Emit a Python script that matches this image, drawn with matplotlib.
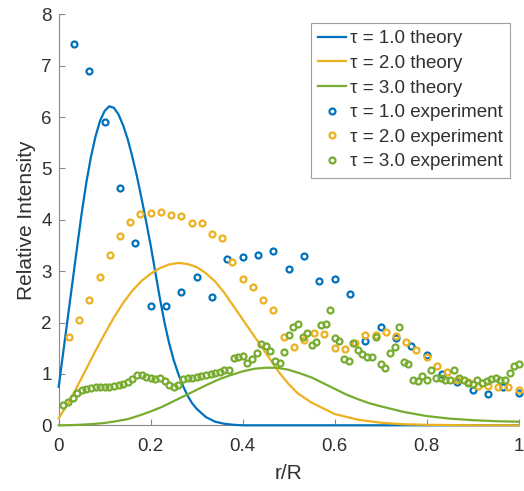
import numpy as np
import matplotlib
matplotlib.use("Agg")
import matplotlib.pyplot as plt

plt.rcParams['font.family'] = ['Liberation Sans', 'DejaVu Sans']

# ---------------- data ----------------
# theory curves
blue_th_x = [0, .01, .02, .03, .04, .05, .06, .07, .08, .09, .10, .11, .12, .13, .14, .15, .16,
             .17, .18, .19, .20, .21, .22, .23, .24, .25, .26, .27, .28, .29, .30, .32, .34, .36,
             .38, .40, 1.0]
blue_th_y = [0.75, 1.43, 2.11, 2.79, 3.47, 4.13, 4.72, 5.22, 5.62, 5.93, 6.12, 6.21, 6.18, 6.05,
             5.84, 5.57, 5.23, 4.85, 4.42, 3.97, 3.50, 2.98, 2.47, 2.00, 1.60, 1.27, 1.00, 0.77,
             0.58, 0.43, 0.32, 0.16, 0.07, 0.03, 0.01, 0.0, 0.0]

orange_th_x = [0, .02, .04, .06, .08, .10, .12, .14, .16, .18, .20, .22, .24, .26, .28, .30, .32,
               .34, .36, .38, .40, .42, .44, .46, .48, .50, .52, .55, .60, .65, .70, .75, .80, .90, 1.0]
orange_th_y = [0.14, 0.42, 0.75, 1.10, 1.45, 1.78, 2.10, 2.38, 2.62, 2.81, 2.95, 3.06, 3.13, 3.16,
               3.14, 3.08, 2.96, 2.80, 2.58, 2.32, 2.06, 1.80, 1.54, 1.28, 1.02, 0.80, 0.62, 0.44,
               0.22, 0.11, 0.05, 0.02, 0.01, 0.0, 0.0]

green_th_x = [0, .025, .05, .075, .10, .125, .15, .175, .20, .225, .25, .275, .30, .325, .35, .375,
              .40, .425, .45, .475, .50, .525, .55, .575, .60, .625, .65, .675, .70, .75, .80, .85,
              .90, .95, 1.0]
green_th_y = [0.0, 0.003, 0.012, 0.025, 0.045, 0.08, 0.12, 0.19, 0.27, 0.36, 0.47, 0.58, 0.69, 0.80,
              0.90, 0.98, 1.05, 1.10, 1.12, 1.12, 1.08, 1.01, 0.93, 0.82, 0.71, 0.60, 0.51, 0.43,
              0.37, 0.26, 0.18, 0.13, 0.10, 0.08, 0.07]

# experiment points
blue_ex_y = [7.42, 6.89, 5.91, 4.62, 3.55, 2.32, 2.32, 2.59, 2.88, 2.50, 3.23, 3.28, 3.31, 3.40,
             3.05, 3.29, 2.80, 2.84, 2.55, 1.65, 1.91, 1.69, 1.55, 1.36, 1.00, 0.84, 0.68, 0.61,
             0.75, 0.63]
blue_ex_x = np.arange(1, len(blue_ex_y) + 1) / 30

orange_ex_y = [1.72, 2.05, 2.44, 2.88, 3.31, 3.68, 3.96, 4.12, 4.14, 4.16, 4.10, 4.08, 3.93, 3.94,
               3.72, 3.64, 3.18, 2.85, 2.70, 2.44, 2.24, 1.71, 1.52, 1.67, 1.79, 1.78, 1.50, 1.48,
               1.61, 1.76, 1.75, 1.81, 1.74, 1.63, 1.46, 1.32, 1.16, 1.04, 0.88, 0.85, 0.77, 0.76,
               0.74, 0.74, 0.69]
orange_ex_x = np.arange(1, len(orange_ex_y) + 1) / 45

green_ex_y = [0.40, 0.46, 0.54, 0.62, 0.68, 0.71, 0.72, 0.74, 0.74, 0.75,
              0.75, 0.77, 0.79, 0.80, 0.85, 0.90, 0.98, 0.98, 0.94, 0.92,
              0.90, 0.92, 0.87, 0.79, 0.75, 0.78, 0.90, 0.93, 0.93, 0.94,
              0.96, 0.98, 1.00, 1.02, 1.04, 1.08, 1.08, 1.31, 1.32, 1.35,
              1.22, 1.29, 1.41, 1.58, 1.54, 1.45, 1.25, 1.22, 1.43, 1.76,
              1.92, 1.98, 1.72, 1.79, 1.56, 1.63, 1.95, 1.97, 2.24, 1.70,
              1.65, 1.30, 1.25, 1.60, 1.47, 1.39, 1.32, 1.32, 1.71, 1.19,
              1.11, 1.40, 1.53, 1.92, 1.24, 1.19, 0.88, 0.87, 0.95, 0.88,
              1.08, 0.93, 0.93, 0.88, 0.89, 1.08, 0.93, 0.89, 0.83, 0.80,
              0.89, 0.82, 0.87, 0.91, 0.93, 0.88, 0.89, 1.01, 1.16, 1.19]
green_ex_x = np.arange(1, len(green_ex_y) + 1) / 100

labels_th = ['τ = 1.0 theory', 'τ = 2.0 theory', 'τ = 3.0 theory']
labels_ex = ['τ = 1.0 experiment', 'τ = 2.0 experiment', 'τ = 3.0 experiment']
xticks = [0, 0.2, 0.4, 0.6, 0.8, 1]
xticklabels = ['0', '0.2', '0.4', '0.6', '0.8', '1']
yticks = [0, 1, 2, 3, 4, 5, 6, 7, 8]

colors = ['#0072BD', '#EDB120', '#77AC30']

# ---------------- figure ----------------
fig = plt.figure(figsize=(5.24, 4.91), dpi=100)
ax = fig.add_axes([58.7 / 524, 1 - 425.3 / 491, 460 / 524, 411 / 491])

for xs, ys, c, lab in zip([blue_th_x, orange_th_x, green_th_x],
                          [blue_th_y, orange_th_y, green_th_y], colors, labels_th):
    ax.plot(xs, ys, color=c, lw=1.6, label=lab, clip_on=False, zorder=3,
            solid_joinstyle='round')

for xs, ys, c, lab in zip([blue_ex_x, orange_ex_x, green_ex_x],
                          [blue_ex_y, orange_ex_y, green_ex_y], colors, labels_ex):
    ax.plot(xs, ys, ls='none', marker='o', ms=4.3, mfc='none', mec=c, mew=1.6,
            label=lab, clip_on=False, zorder=4)

ax.set_xlim(0, 1)
ax.set_ylim(0, 8)
ax.set_xticks(xticks)
ax.set_xticklabels(xticklabels)
ax.set_yticks(yticks)

for s in ['top', 'right']:
    ax.spines[s].set_visible(False)
for s in ['left', 'bottom']:
    ax.spines[s].set_color('#8a8a8a')
    ax.spines[s].set_linewidth(0.8)

ax.tick_params(direction='in', length=4, width=0.8, color='#8a8a8a',
               labelsize=13.5, labelcolor='#303030')
ax.tick_params(axis='x', pad=9)
ax.tick_params(axis='y', pad=5)

ax.set_xlabel('r/R', fontsize=15, color='#303030')
ax.set_ylabel('Relative Intensity', fontsize=15, color='#303030')
ax.xaxis.set_label_coords(0.5, -0.095)
ax.yaxis.set_label_coords(-0.05, 0.5)

leg = ax.legend(loc='upper right', fontsize=13.5, handlelength=1.5, handletextpad=0.2,
                labelspacing=0.4, borderpad=0.4, borderaxespad=0.45, fancybox=False,
                framealpha=1, edgecolor='#a0a0a0', markerscale=1.0)
leg.get_frame().set_linewidth(0.8)
for t in leg.get_texts():
    t.set_color('#303030')

fig.savefig('out.png', dpi=100)
